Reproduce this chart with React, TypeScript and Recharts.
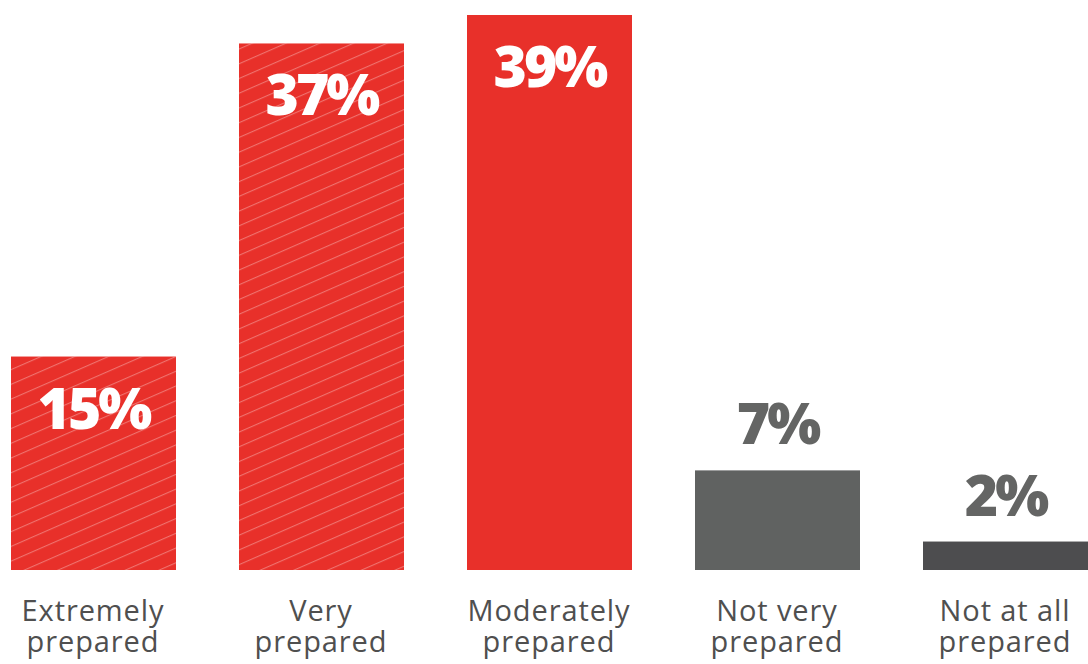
import React from 'react';
import { BarChart, Bar, XAxis, YAxis, Cell, LabelList } from 'recharts';

const categories = ['Extremely|prepared', 'Very|prepared', 'Moderately|prepared', 'Not very|prepared', 'Not at all|prepared'];
const values = [15, 37, 39, 7, 2];
const colors = ['#e8302a', '#e8302a', '#e8302a', '#606261', '#4d4d4f'];
const hatched = [true, true, false, false, false];

const data = categories.map((c, i) => ({ name: c, value: values[i], idx: i }));

const Tick = (props: any) => {
  const { x, y, payload } = props;
  const lines = String(payload.value).split('|');
  return (
    <text x={x} y={y} textAnchor="middle" fill="#4f4f4f" fontFamily="'Open Sans', sans-serif" fontSize={29} letterSpacing={0.9}>
      {lines.map((l, i) => (
        <tspan key={i} x={x} y={y + 43 + i * 31}>{l}</tspan>
      ))}
    </text>
  );
};

const BarShape = (props: any) => {
  const { x, y, width, height, index } = props;
  return (
    <g>
      <rect x={x} y={y} width={width} height={height} fill={colors[index]} />
      {hatched[index] && <rect x={x} y={y} width={width} height={height} fill="url(#hatch)" />}
    </g>
  );
};

const ValueLabel = (props: any) => {
  const { x, y, width, value, index } = props;
  const inside = index < 3;
  return (
    <text
      x={x + width / 2}
      y={inside ? y + 72 : y - 26}
      textAnchor="middle"
      fill={inside ? '#ffffff' : '#646564'}
      fontFamily="'Open Sans', sans-serif"
      fontWeight={800}
      fontSize={57}
      letterSpacing={-3}
    >
      {value}%
    </text>
  );
};

export default function App() {
  return (
    <div style={{ position: 'absolute', left: 0, top: 0, width: 1088, height: 664, overflow: 'hidden', background: '#fff' }}>
      <div style={{ position: 'absolute', left: -21, top: 0 }}>
        <BarChart width={1140} height={664} data={data} margin={{ top: 15, right: 0, bottom: 0, left: 0 }} barCategoryGap={0}>
          <defs>
            <pattern id="hatch" patternUnits="userSpaceOnUse" width={20} height={13.5} patternTransform="rotate(-23.6)">
              <line x1={0} y1={0.5} x2={20} y2={0.5} stroke="rgba(255,255,255,0.32)" strokeWidth={1.2} />
            </pattern>
          </defs>
          <XAxis dataKey="name" axisLine={false} tickLine={false} height={94} tick={<Tick />} interval={0} />
          <YAxis hide domain={[0, 39]} />
          <Bar dataKey="value" barSize={165} isAnimationActive={false} shape={<BarShape />}>
            {data.map((d, i) => (
              <Cell key={i} fill={colors[i]} />
            ))}
            <LabelList dataKey="value" content={<ValueLabel />} />
          </Bar>
        </BarChart>
      </div>
    </div>
  );
}
